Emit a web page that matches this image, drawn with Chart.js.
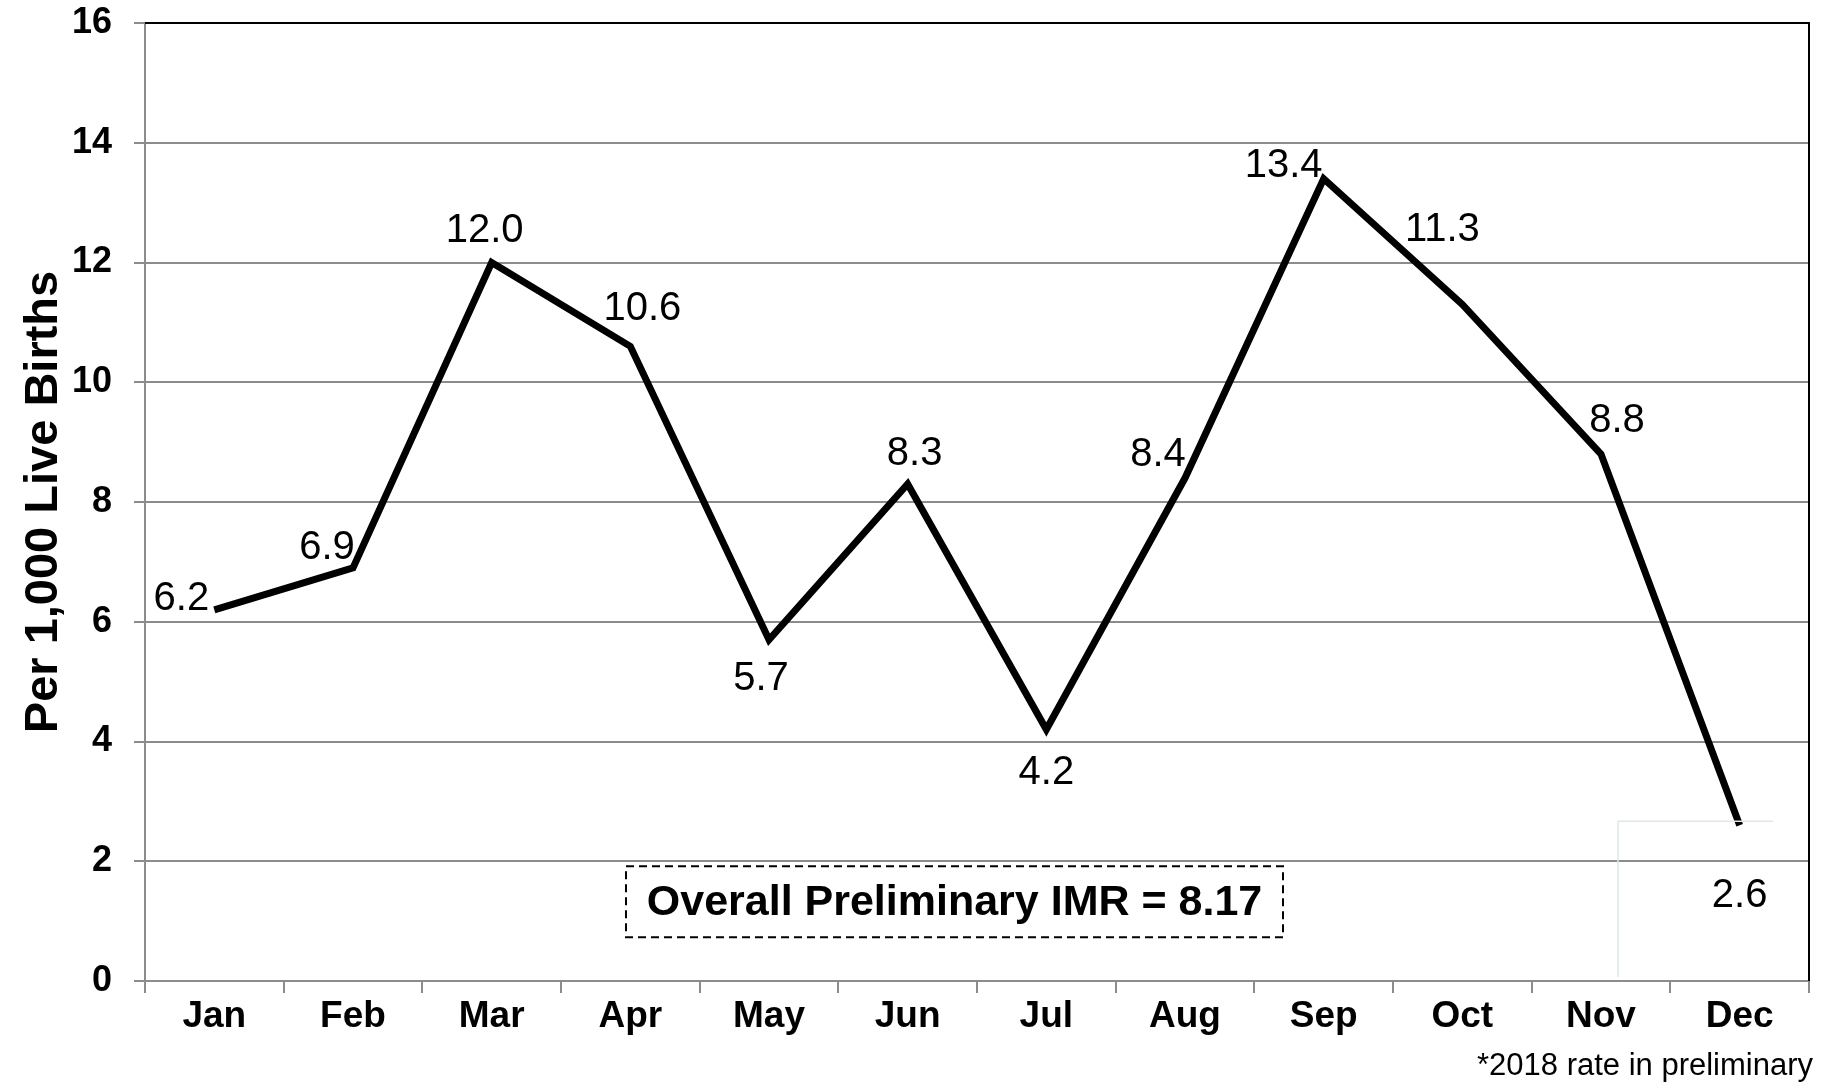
<!DOCTYPE html>
<html lang="en">
<head>
<meta charset="UTF-8">
<title>Monthly Infant Mortality Rate, 2018</title>
<script src="https://cdn.jsdelivr.net/npm/chart.js"></script>
<style>
  html, body { margin: 0; padding: 0; background: #fff; }
  canvas { display: block; }
</style>
</head>
<body>
<canvas id="imrChart" width="1837" height="1083"></canvas>
<script>
const months = ['Jan', 'Feb', 'Mar', 'Apr', 'May', 'Jun', 'Jul', 'Aug', 'Sep', 'Oct', 'Nov', 'Dec'];
const imrRates = [6.2, 6.9, 12.0, 10.6, 5.7, 8.3, 4.2, 8.4, 13.4, 11.3, 8.8, 2.6];
const yTickValues = [0, 2, 4, 6, 8, 10, 12, 14, 16];
const overallNote = 'Overall Preliminary IMR = 8.17';
const footNote = '*2018 rate in preliminary';

// where each value label sits, relative to its point (px)
const labelDx = [-33, -26, -7, 12, -8, 7, 0, -27, -40, -20, 16, 0];
const labelDy = [-11, -20, -32, -37, 39, -30, 43, -23, -13, -74, -33, 71];

const FONT = '"Liberation Sans", Arial, Helvetica, sans-serif';
const GRID = '#8c8c8c';

const extrasPlugin = {
    id: 'extras',
    afterDatasetsDraw(chart) {
        const ctx = chart.ctx;
        const meta = chart.getDatasetMeta(0);
        ctx.save();
        ctx.fillStyle = '#000';
        ctx.font = '40px ' + FONT;
        ctx.textAlign = 'center';
        ctx.textBaseline = 'middle';
        meta.data.forEach((pt, i) => {
            ctx.fillText(imrRates[i].toFixed(1), pt.x + labelDx[i], pt.y + labelDy[i]);
        });
        ctx.restore();
    },
    afterDraw(chart) {
        const ctx = chart.ctx;
        const area = chart.chartArea;
        const y = chart.scales.y;
        ctx.save();

        // black top and right frame
        ctx.strokeStyle = '#000';
        ctx.lineWidth = 2;
        ctx.beginPath();
        ctx.moveTo(area.left, area.top);
        ctx.lineTo(area.right, area.top);
        ctx.lineTo(area.right, area.bottom);
        ctx.stroke();

        // faint empty text box near Dec
        ctx.strokeStyle = '#dde9e8';
        ctx.lineWidth = 1.5;
        ctx.beginPath();
        ctx.moveTo(area.left + 1473, area.bottom - 4);
        ctx.lineTo(area.left + 1473, y.getPixelForValue(2.67));
        ctx.lineTo(area.left + 1628, y.getPixelForValue(2.67));
        ctx.stroke();

        // overall IMR box
        const bx = 626, by = y.getPixelForValue(2) + 5, bw = 657, bh = 71;
        ctx.fillStyle = '#fff';
        ctx.fillRect(bx, by, bw, bh);
        ctx.strokeStyle = '#000';
        ctx.lineWidth = 2;
        ctx.setLineDash([8, 5]);
        ctx.strokeRect(bx, by, bw, bh);
        ctx.setLineDash([]);
        ctx.fillStyle = '#000';
        ctx.font = 'bold 43px ' + FONT;
        ctx.textAlign = 'center';
        ctx.textBaseline = 'middle';
        ctx.fillText(overallNote, bx + bw / 2, by + bh / 2 + 1);

        // footnote
        ctx.font = '31px ' + FONT;
        ctx.textAlign = 'right';
        ctx.textBaseline = 'alphabetic';
        ctx.fillText(footNote, 1813, 1075);
        ctx.restore();
    }
};

new Chart(document.getElementById('imrChart'), {
    type: 'line',
    data: {
        labels: months,
        datasets: [{
            data: imrRates,
            borderColor: '#000',
            borderWidth: 7,
            pointRadius: 0,
            tension: 0,
            fill: false
        }]
    },
    options: {
        responsive: false,
        animation: false,
        layout: { padding: { top: 23, right: 28, left: 0, bottom: 0 } },
        plugins: {
            legend: { display: false },
            tooltip: { enabled: false }
        },
        scales: {
            x: {
                offset: true,
                grid: {
                    offset: true,
                    drawOnChartArea: false,
                    color: GRID,
                    lineWidth: 2,
                    tickLength: 12
                },
                border: { color: GRID, width: 2 },
                ticks: {
                    color: '#000',
                    font: { family: FONT, size: 37, weight: 'bold' },
                    padding: 2,
                    maxRotation: 0,
                    autoSkip: false
                },
                afterFit(scale) {
                    scale.height = 102;
                    scale.paddingLeft = 0;
                    scale.paddingRight = 0;
                }
            },
            y: {
                min: 0,
                max: 16,
                afterBuildTicks(scale) {
                    scale.ticks = yTickValues.map(v => ({ value: v }));
                },
                grid: {
                    color: GRID,
                    lineWidth: 2,
                    tickLength: 11
                },
                border: { color: GRID, width: 2 },
                ticks: {
                    color: '#000',
                    font: { family: FONT, size: 36, weight: 'bold' },
                    padding: 22
                },
                title: {
                    display: true,
                    text: 'Per 1,000 Live Births',
                    color: '#000',
                    font: { family: FONT, size: 47, weight: 'bold' },
                    padding: { top: 16, bottom: 0 }
                },
                afterFit(scale) {
                    scale.width = 145;
                    scale.paddingTop = 0;
                    scale.paddingBottom = 0;
                }
            }
        }
    },
    plugins: [extrasPlugin]
});
</script>
</body>
</html>
